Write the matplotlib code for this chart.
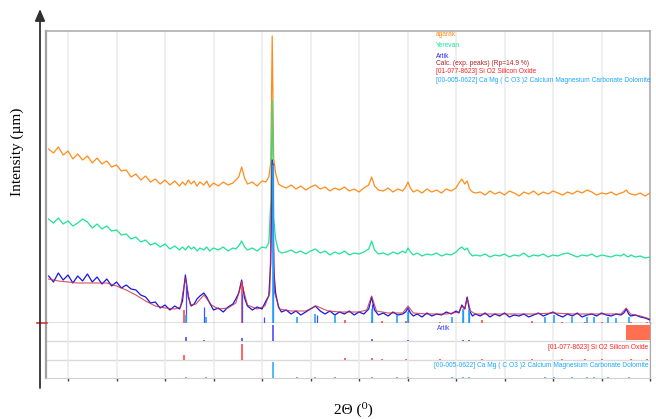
import numpy as np
import matplotlib
matplotlib.use('Agg')
import matplotlib.pyplot as plt

# ---------------- data (2theta in degrees, intensity in counts) ----------------
two_theta = [
    8.0, 8.5, 9.0, 9.5, 10.0, 10.5, 11.0, 11.5, 12.0, 12.5, 13.0, 13.5, 14.0, 14.5,
    15.0, 15.5, 16.0, 16.5, 17.0, 17.5, 18.0, 18.5, 19.0, 19.5, 20.0, 20.5, 21.0, 21.5,
    21.8, 22.1, 22.4, 22.7, 23.0, 23.3, 23.6, 24.0, 24.3, 24.6, 25.0, 25.5, 26.0, 26.5,
    27.0, 27.3, 27.6, 27.9, 28.2, 28.5, 29.0, 29.5, 30.0, 30.4, 30.7, 30.9, 31.05, 31.2,
    31.4, 31.7, 32.0,
    32.5, 33.0, 33.5, 34.0, 34.5, 35.0, 35.5, 36.0, 36.5, 37.0, 37.5, 38.0, 38.5, 39.0,
    39.5, 40.0, 40.5, 41.0, 41.3, 41.6, 42.0,
    42.5, 43.0, 43.5, 44.0, 44.5, 44.8, 45.05, 45.3, 45.6, 46.0, 46.5, 47.0, 47.5, 48.0,
    48.5, 49.0, 49.5, 50.0, 50.3, 50.6, 50.9, 51.15, 51.4, 51.7, 52.0,
    52.5, 53.0, 53.5, 54.0, 54.5, 55.0, 55.5, 56.0, 56.5, 57.0, 57.5, 58.0, 58.5, 59.0,
    59.5, 60.0, 60.5, 61.0, 61.5, 62.0, 62.5, 63.0, 63.5, 64.0, 64.5, 65.0, 65.5, 66.0,
    66.5, 67.0, 67.3, 67.55, 67.8, 68.0, 68.5, 69.0, 69.5, 70.0]

agarak = [
    174, 170, 176, 168, 172, 164, 169, 163, 167, 160, 165, 159, 162, 156,
    158, 152, 153, 146, 149, 143, 147, 141, 144, 139, 143, 138, 142, 137,
    141, 138, 143, 139, 142, 137, 141, 138, 142, 136, 140, 137, 141, 138,
    140, 143, 146, 156, 145, 139, 141, 137, 142, 141, 146, 160, 287, 165,
    150, 139, 137,
    135, 138, 134, 137, 133, 136, 138, 134, 136, 132, 135, 133, 136, 132,
    134, 131, 135, 138, 146, 137, 133,
    132, 135, 131, 134, 132, 136, 141, 135, 131, 133, 130, 134, 131, 133,
    130, 134, 132, 135, 140, 144, 139, 142, 134, 131, 130,
    131, 128, 132, 129, 131, 128, 132, 130, 127, 131, 129, 132, 128, 131,
    129, 132, 130, 128, 131, 129, 132, 130, 133, 131, 128, 130, 129, 131,
    128, 130, 131, 133, 130, 129, 128, 130, 127, 130]

yerevan = [
    104, 100, 105, 99, 102, 97, 100, 104, 101, 95, 99, 94, 97, 92,
    93, 88, 89, 84, 86, 81, 83, 78, 80, 76, 79, 74, 77, 73,
    76, 73, 77, 74, 76, 72, 75, 73, 76, 72, 75, 73, 76, 72,
    75, 74, 77, 82, 76, 73, 75, 72, 76, 75, 80, 120, 223, 105,
    84, 72, 70,
    71, 73, 70, 72, 69, 72, 74, 70, 72, 68, 71, 69, 72, 68,
    70, 69, 71, 74, 82, 73, 69,
    70, 68, 71, 69, 72, 70, 75, 71, 68, 70, 67, 69, 68, 70,
    67, 69, 68, 71, 74, 76, 73, 75, 70, 67, 68,
    67, 69, 66, 68, 67, 69, 66, 68, 67, 70, 66, 68, 67, 69,
    66, 68, 67, 69, 70, 68, 66, 68, 67, 69, 66, 68, 67, 66,
    68, 67, 69, 67, 66, 68, 66, 67, 65, 66]

artik = [
    47, 41, 50, 43, 48, 40, 47, 42, 49, 41, 46, 39, 44, 37,
    41, 35, 38, 34, 33, 28, 26, 20, 21, 15, 18, 13, 17, 14,
    22, 48, 26, 17, 19, 24, 27, 30, 26, 20, 13, 15, 11, 16,
    19, 24, 30, 43, 25, 17, 13, 16, 14, 22, 27, 60, 163, 55,
    30, 16, 11,
    13, 9, 12, 8, 11, 14, 17, 12, 9, 12, 8, 11, 9, 12,
    8, 11, 9, 14, 26, 13, 8,
    10, 7, 11, 8, 9, 11, 15, 10, 7, 9, 6, 10, 7, 9,
    8, 11, 9, 12, 10, 18, 14, 26, 12, 7, 9,
    7, 10, 6, 9, 7, 10, 6, 8, 7, 9, 6, 8, 10, 7,
    9, 11, 8, 6, 9, 7, 10, 6, 8, 9, 7, 10, 8, 7,
    9, 8, 10, 14, 9, 7, 8, 6, 5, 3]

calc_theta = [8.0, 9.0, 10.0, 11.0, 12.0, 13.0, 14.0, 15.0, 16.0, 17.0, 18.0, 19.0,
              20.0, 21.0, 21.6, 22.1, 22.6, 23.2, 24.0, 24.8, 25.5, 26.5, 27.3, 27.9,
              28.5, 29.5, 30.3, 30.8, 31.05, 31.3, 31.8, 33.0, 34.5, 35.6, 36.8, 38.0,
              40.0, 40.8, 41.3, 41.8, 43.0, 44.5, 45.05, 45.6, 47.0, 49.0, 50.3, 50.6,
              50.9, 51.15, 51.5, 52.0, 55.0, 58.0, 60.0, 62.0, 65.0, 67.0, 67.55, 68.0,
              69.0, 70.0]
calc_artik = [44, 42, 41, 40, 40, 40, 40, 37, 33, 28, 22, 17,
              15, 14, 16, 45, 18, 19, 28, 18, 14, 15, 20, 40,
              18, 14, 17, 30, 160, 30, 14, 12, 12, 17, 12, 11,
              11, 13, 27, 12, 10, 10, 17, 10, 9, 9, 11, 17,
              14, 25, 12, 9, 9, 9, 10, 9, 9, 9, 15, 9,
              7, 4]

# reference stick patterns (position, relative intensity %)
artik_pos = [22.2, 24.0, 27.9, 30.2, 31.1, 35.7, 41.3, 45.0, 50.7, 51.3]
artik_rel = [25, 10, 18, 4, 100, 5, 12, 10, 8, 8]
sio2_pos = [22.0, 27.9, 38.6, 41.3, 42.4, 44.8, 48.3, 52.7, 57.8, 60.9, 63.3, 65.1, 68.0, 69.7]
sio2_rel = [30, 100, 8, 8, 5, 5, 3, 6, 5, 3, 3, 3, 3, 3]
dol_pos = [22.2, 24.2, 31.1, 33.6, 35.5, 37.5, 41.3, 43.9, 45.0, 49.6, 50.7, 51.3,
           59.2, 60.1, 62.0, 63.5, 64.2, 65.7, 66.5, 67.8]
dol_rel = [5, 4, 100, 4, 6, 5, 9, 5, 7, 4, 9, 8, 4, 5, 4, 4, 4, 4, 3, 4]

legend_labels = ['agarak', 'Yerevan', 'Artik', 'Calc. (exp. peaks) (Rp=14.9 %)',
                 '[01-077-8623] Si O2 Silicon Oxide',
                 '[00-005-0622] Ca Mg ( C O3 )2 Calcium Magnesium Carbonate Dolomite']
xticks = [10, 15, 20, 25, 30, 35, 40, 45, 50, 55, 60, 65, 70]

# ---------------- style ----------------
C_OR = '#ff8c1a'
C_GR = '#1ee396'
C_BL = '#1616e8'
C_CALC = '#c8283c'
C_SI = '#ff3a3a'
C_DOL = '#1ea8ff'

W, H = 656, 419
fig = plt.figure(figsize=(W / 100, H / 100), dpi=100)

def fx(px):
    return px / W

def fy(py):
    return 1 - py / H

XL = (7.73, 70.0)

# main axes
ax1 = fig.add_axes([fx(46), fy(323), fx(604), 292 / H])
ax1.set_xlim(*XL)
ax1.set_ylim(0, 292)
ax1.set_xticks(xticks)
ax1.set_yticks([])
ax1.tick_params(axis='x', length=0, labelbottom=False)
ax1.grid(axis='x', color='#ececec', lw=1.2, zorder=0)
for s in ['top', 'right']:
    ax1.spines[s].set_color('#a8a8a8')
    ax1.spines[s].set_linewidth(1.1)
ax1.spines['left'].set_color('#a0a0a0')
ax1.spines['left'].set_linewidth(1.6)
ax1.spines['bottom'].set_color('#606060')
ax1.spines['bottom'].set_linewidth(1.0)

ax1.plot(two_theta, agarak, color=C_OR, lw=0.9, zorder=3)
ax1.plot(two_theta, yerevan, color=C_GR, lw=0.9, zorder=3)
ax1.plot(two_theta, artik, color=C_BL, lw=0.9, zorder=4)
ax1.plot(calc_theta, calc_artik, color=C_CALC, lw=0.8, alpha=0.8, zorder=5)

ax1.vlines(sio2_pos, 0, np.array(sio2_rel) * 0.42, color=C_SI, lw=1.1, zorder=6)
ax1.vlines(artik_pos, 0, np.array(artik_rel) * 1.6, color='#4a4aff', lw=0.9, zorder=6)
ax1.vlines(dol_pos, 0, np.array(dol_rel) * 1.58, color=C_DOL, lw=1.2, zorder=6)

# bottom stick panel
ax2 = fig.add_axes([fx(46), fy(378), fx(604), 55 / H])
ax2.set_xlim(*XL)
ax2.set_ylim(0, 3)
ax2.set_xticks(xticks)
ax2.set_yticks([])
ax2.tick_params(axis='x', length=2.5, width=1.0, color='#404040', labelbottom=False)
ax2.grid(axis='x', color='#ececec', lw=1.2, zorder=0)
for yv in [1, 2]:
    ax2.axhline(yv, color='#dadada', lw=1.0, zorder=1)
ax2.spines['top'].set_visible(False)
ax2.spines['bottom'].set_color('#d0d0d0')
ax2.spines['left'].set_color('#a0a0a0')
ax2.spines['left'].set_linewidth(1.6)
ax2.spines['right'].set_color('#a8a8a8')
sc = 0.88 / 100
ax2.vlines(artik_pos, 2, 2 + np.array(artik_rel) * sc, color='#3c3cff', lw=1.1, zorder=3)
ax2.vlines(sio2_pos, 1, 1 + np.array(sio2_rel) * sc, color=C_SI, lw=1.1, zorder=3)
ax2.vlines(dol_pos, 0, np.array(dol_rel) * sc, color=C_DOL, lw=1.1, zorder=3)

# overlay in pixel coordinates for frame, arrows and text
ov = fig.add_axes([0, 0, 1, 1], zorder=10)
ov.set_xlim(0, W)
ov.set_ylim(H, 0)
ov.axis('off')
ov.patch.set_visible(False)

ov.annotate('', xy=(40, 9), xytext=(40, 388),
            arrowprops=dict(arrowstyle='-|>,head_length=0.7,head_width=0.3',
                            color='#303030', lw=1.3, shrinkA=0, shrinkB=0))
ov.annotate('', xy=(658, 388), xytext=(40, 388),
            arrowprops=dict(arrowstyle='-|>,head_length=0.7,head_width=0.3',
                            color='#202020', lw=1.3, shrinkA=0, shrinkB=0))
ov.plot([37, 47], [323, 323], color='#e03030', lw=1.2)
ov.add_patch(plt.Rectangle((626, 325), 24, 15, color='#ff7050', lw=0))

sans = ['Liberation Sans', 'DejaVu Sans']
leg_colors = [C_OR, C_GR, '#2a2aff', '#b02020', '#ff2020', '#1ea8ff']
leg_y = [35, 45.5, 56, 63.5, 71.5, 80]
for lab, col, yy in zip(legend_labels, leg_colors, leg_y):
    ov.text(436, yy, lab, color=col, fontsize=4.75, family=sans, va='center', ha='left')

ov.text(437, 328.5, 'Artik', color='#3c3cff', fontsize=4.75, family=sans, va='center')
ov.text(648, 347, legend_labels[4], color='#ff2020', fontsize=4.75, family=sans,
        va='center', ha='right')
ov.text(648, 365.5, legend_labels[5], color='#1ea8ff', fontsize=4.75, family=sans,
        va='center', ha='right')

serif = ['Liberation Serif', 'DejaVu Serif']
ov.text(17, 152, 'Intensity (µm)', rotation=90, fontsize=11, family=serif,
        ha='center', va='center')
ov.text(353, 409, '2Θ (⁰)', fontsize=11, family=serif, ha='center', va='center')

fig.savefig('out.png', dpi=100)
